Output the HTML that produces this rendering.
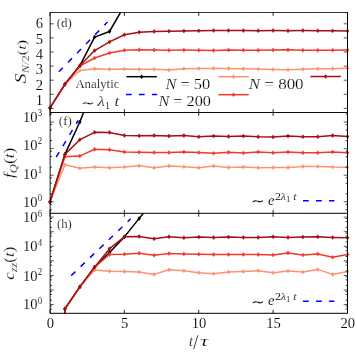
<!DOCTYPE html>
<html><head><meta charset="utf-8"><style>html,body{margin:0;padding:0;background:#fff;}svg{display:block;will-change:transform;}text{font-family:"Liberation Serif", serif;fill:#000;stroke:#fff;stroke-width:0.1px;}text.m{stroke-width:0.2px;}</style></head><body>
<svg width="357" height="354" viewBox="0 0 357 354">
<rect width="357" height="354" fill="#fff"/>
<defs>
<clipPath id="c0"><rect x="50.0" y="12.5" width="297.5" height="100.0"/></clipPath>
<clipPath id="c1"><rect x="50.0" y="112.5" width="297.5" height="100.8"/></clipPath>
<clipPath id="c2"><rect x="50.0" y="213.3" width="297.5" height="99.9"/></clipPath>
</defs>
<g>
<line x1="58.8" y1="71.8" x2="107.5" y2="22.0" stroke="#0000ff" stroke-width="1.50" stroke-dasharray="5.8 7.2" clip-path="url(#c0)"/>
<polyline fill="none" stroke="#000000" stroke-width="1.50" stroke-linejoin="round" clip-path="url(#c0)" points="50.0,107.8 64.9,84.3 79.8,65.8 94.6,37.1 109.5,31.5 124.4,5.7"/><path d="M50.0 105.8 l1.44 2.00 l-1.44 2.00 l-1.44 -2.00 z" fill="#000000" stroke="#000000" stroke-width="0.5"/><path d="M64.9 82.3 l1.44 2.00 l-1.44 2.00 l-1.44 -2.00 z" fill="#000000" stroke="#000000" stroke-width="0.5"/><path d="M79.8 63.8 l1.44 2.00 l-1.44 2.00 l-1.44 -2.00 z" fill="#000000" stroke="#000000" stroke-width="0.5"/><path d="M94.6 35.1 l1.44 2.00 l-1.44 2.00 l-1.44 -2.00 z" fill="#000000" stroke="#000000" stroke-width="0.5"/><path d="M109.5 29.5 l1.44 2.00 l-1.44 2.00 l-1.44 -2.00 z" fill="#000000" stroke="#000000" stroke-width="0.5"/>
<polyline fill="none" stroke="#fc9272" stroke-width="1.50" stroke-linejoin="round" clip-path="url(#c0)" points="50.0,107.8 64.9,84.3 79.8,70.5 94.6,68.7 109.5,69.2 124.4,69.0 139.2,69.2 154.1,69.3 169.0,69.9 183.9,68.7 198.8,68.5 213.6,68.4 228.5,68.6 243.4,68.8 258.2,69.0 273.1,69.5 288.0,69.8 302.9,69.2 317.8,68.7 332.6,68.7 347.5,68.3"/><path d="M50.0 105.8 l1.44 2.00 l-1.44 2.00 l-1.44 -2.00 z" fill="#fc9272" stroke="#fc9272" stroke-width="0.5"/><path d="M64.9 82.3 l1.44 2.00 l-1.44 2.00 l-1.44 -2.00 z" fill="#fc9272" stroke="#fc9272" stroke-width="0.5"/><path d="M79.8 68.5 l1.44 2.00 l-1.44 2.00 l-1.44 -2.00 z" fill="#fc9272" stroke="#fc9272" stroke-width="0.5"/><path d="M94.6 66.7 l1.44 2.00 l-1.44 2.00 l-1.44 -2.00 z" fill="#fc9272" stroke="#fc9272" stroke-width="0.5"/><path d="M109.5 67.2 l1.44 2.00 l-1.44 2.00 l-1.44 -2.00 z" fill="#fc9272" stroke="#fc9272" stroke-width="0.5"/><path d="M124.4 67.0 l1.44 2.00 l-1.44 2.00 l-1.44 -2.00 z" fill="#fc9272" stroke="#fc9272" stroke-width="0.5"/><path d="M139.2 67.2 l1.44 2.00 l-1.44 2.00 l-1.44 -2.00 z" fill="#fc9272" stroke="#fc9272" stroke-width="0.5"/><path d="M154.1 67.3 l1.44 2.00 l-1.44 2.00 l-1.44 -2.00 z" fill="#fc9272" stroke="#fc9272" stroke-width="0.5"/><path d="M169.0 67.9 l1.44 2.00 l-1.44 2.00 l-1.44 -2.00 z" fill="#fc9272" stroke="#fc9272" stroke-width="0.5"/><path d="M183.9 66.7 l1.44 2.00 l-1.44 2.00 l-1.44 -2.00 z" fill="#fc9272" stroke="#fc9272" stroke-width="0.5"/><path d="M198.8 66.5 l1.44 2.00 l-1.44 2.00 l-1.44 -2.00 z" fill="#fc9272" stroke="#fc9272" stroke-width="0.5"/><path d="M213.6 66.4 l1.44 2.00 l-1.44 2.00 l-1.44 -2.00 z" fill="#fc9272" stroke="#fc9272" stroke-width="0.5"/><path d="M228.5 66.6 l1.44 2.00 l-1.44 2.00 l-1.44 -2.00 z" fill="#fc9272" stroke="#fc9272" stroke-width="0.5"/><path d="M243.4 66.8 l1.44 2.00 l-1.44 2.00 l-1.44 -2.00 z" fill="#fc9272" stroke="#fc9272" stroke-width="0.5"/><path d="M258.2 67.0 l1.44 2.00 l-1.44 2.00 l-1.44 -2.00 z" fill="#fc9272" stroke="#fc9272" stroke-width="0.5"/><path d="M273.1 67.5 l1.44 2.00 l-1.44 2.00 l-1.44 -2.00 z" fill="#fc9272" stroke="#fc9272" stroke-width="0.5"/><path d="M288.0 67.8 l1.44 2.00 l-1.44 2.00 l-1.44 -2.00 z" fill="#fc9272" stroke="#fc9272" stroke-width="0.5"/><path d="M302.9 67.2 l1.44 2.00 l-1.44 2.00 l-1.44 -2.00 z" fill="#fc9272" stroke="#fc9272" stroke-width="0.5"/><path d="M317.8 66.7 l1.44 2.00 l-1.44 2.00 l-1.44 -2.00 z" fill="#fc9272" stroke="#fc9272" stroke-width="0.5"/><path d="M332.6 66.7 l1.44 2.00 l-1.44 2.00 l-1.44 -2.00 z" fill="#fc9272" stroke="#fc9272" stroke-width="0.5"/><path d="M347.5 66.3 l1.44 2.00 l-1.44 2.00 l-1.44 -2.00 z" fill="#fc9272" stroke="#fc9272" stroke-width="0.5"/>
<polyline fill="none" stroke="#ef3b2c" stroke-width="1.50" stroke-linejoin="round" clip-path="url(#c0)" points="50.0,107.8 64.9,84.3 79.8,66.0 94.6,58.0 109.5,53.0 124.4,50.3 139.2,49.7 154.1,50.0 169.0,50.3 183.9,50.1 198.8,50.2 213.6,50.4 228.5,50.0 243.4,50.2 258.2,50.3 273.1,50.0 288.0,49.8 302.9,50.2 317.8,50.3 332.6,50.2 347.5,50.1"/><path d="M50.0 105.8 l1.44 2.00 l-1.44 2.00 l-1.44 -2.00 z" fill="#ef3b2c" stroke="#ef3b2c" stroke-width="0.5"/><path d="M64.9 82.3 l1.44 2.00 l-1.44 2.00 l-1.44 -2.00 z" fill="#ef3b2c" stroke="#ef3b2c" stroke-width="0.5"/><path d="M79.8 64.0 l1.44 2.00 l-1.44 2.00 l-1.44 -2.00 z" fill="#ef3b2c" stroke="#ef3b2c" stroke-width="0.5"/><path d="M94.6 56.0 l1.44 2.00 l-1.44 2.00 l-1.44 -2.00 z" fill="#ef3b2c" stroke="#ef3b2c" stroke-width="0.5"/><path d="M109.5 51.0 l1.44 2.00 l-1.44 2.00 l-1.44 -2.00 z" fill="#ef3b2c" stroke="#ef3b2c" stroke-width="0.5"/><path d="M124.4 48.3 l1.44 2.00 l-1.44 2.00 l-1.44 -2.00 z" fill="#ef3b2c" stroke="#ef3b2c" stroke-width="0.5"/><path d="M139.2 47.7 l1.44 2.00 l-1.44 2.00 l-1.44 -2.00 z" fill="#ef3b2c" stroke="#ef3b2c" stroke-width="0.5"/><path d="M154.1 48.0 l1.44 2.00 l-1.44 2.00 l-1.44 -2.00 z" fill="#ef3b2c" stroke="#ef3b2c" stroke-width="0.5"/><path d="M169.0 48.3 l1.44 2.00 l-1.44 2.00 l-1.44 -2.00 z" fill="#ef3b2c" stroke="#ef3b2c" stroke-width="0.5"/><path d="M183.9 48.1 l1.44 2.00 l-1.44 2.00 l-1.44 -2.00 z" fill="#ef3b2c" stroke="#ef3b2c" stroke-width="0.5"/><path d="M198.8 48.2 l1.44 2.00 l-1.44 2.00 l-1.44 -2.00 z" fill="#ef3b2c" stroke="#ef3b2c" stroke-width="0.5"/><path d="M213.6 48.4 l1.44 2.00 l-1.44 2.00 l-1.44 -2.00 z" fill="#ef3b2c" stroke="#ef3b2c" stroke-width="0.5"/><path d="M228.5 48.0 l1.44 2.00 l-1.44 2.00 l-1.44 -2.00 z" fill="#ef3b2c" stroke="#ef3b2c" stroke-width="0.5"/><path d="M243.4 48.2 l1.44 2.00 l-1.44 2.00 l-1.44 -2.00 z" fill="#ef3b2c" stroke="#ef3b2c" stroke-width="0.5"/><path d="M258.2 48.3 l1.44 2.00 l-1.44 2.00 l-1.44 -2.00 z" fill="#ef3b2c" stroke="#ef3b2c" stroke-width="0.5"/><path d="M273.1 48.0 l1.44 2.00 l-1.44 2.00 l-1.44 -2.00 z" fill="#ef3b2c" stroke="#ef3b2c" stroke-width="0.5"/><path d="M288.0 47.8 l1.44 2.00 l-1.44 2.00 l-1.44 -2.00 z" fill="#ef3b2c" stroke="#ef3b2c" stroke-width="0.5"/><path d="M302.9 48.2 l1.44 2.00 l-1.44 2.00 l-1.44 -2.00 z" fill="#ef3b2c" stroke="#ef3b2c" stroke-width="0.5"/><path d="M317.8 48.3 l1.44 2.00 l-1.44 2.00 l-1.44 -2.00 z" fill="#ef3b2c" stroke="#ef3b2c" stroke-width="0.5"/><path d="M332.6 48.2 l1.44 2.00 l-1.44 2.00 l-1.44 -2.00 z" fill="#ef3b2c" stroke="#ef3b2c" stroke-width="0.5"/><path d="M347.5 48.1 l1.44 2.00 l-1.44 2.00 l-1.44 -2.00 z" fill="#ef3b2c" stroke="#ef3b2c" stroke-width="0.5"/>
<polyline fill="none" stroke="#a50f15" stroke-width="1.50" stroke-linejoin="round" clip-path="url(#c0)" points="50.0,107.8 64.9,84.3 79.8,65.8 94.6,50.6 109.5,41.9 124.4,34.7 139.2,32.2 154.1,31.5 169.0,31.2 183.9,31.0 198.8,30.8 213.6,30.6 228.5,30.5 243.4,30.6 258.2,30.7 273.1,30.6 288.0,30.8 302.9,30.6 317.8,30.7 332.6,30.8 347.5,30.9"/><path d="M50.0 105.8 l1.44 2.00 l-1.44 2.00 l-1.44 -2.00 z" fill="#a50f15" stroke="#a50f15" stroke-width="0.5"/><path d="M64.9 82.3 l1.44 2.00 l-1.44 2.00 l-1.44 -2.00 z" fill="#a50f15" stroke="#a50f15" stroke-width="0.5"/><path d="M79.8 63.8 l1.44 2.00 l-1.44 2.00 l-1.44 -2.00 z" fill="#a50f15" stroke="#a50f15" stroke-width="0.5"/><path d="M94.6 48.6 l1.44 2.00 l-1.44 2.00 l-1.44 -2.00 z" fill="#a50f15" stroke="#a50f15" stroke-width="0.5"/><path d="M109.5 39.9 l1.44 2.00 l-1.44 2.00 l-1.44 -2.00 z" fill="#a50f15" stroke="#a50f15" stroke-width="0.5"/><path d="M124.4 32.7 l1.44 2.00 l-1.44 2.00 l-1.44 -2.00 z" fill="#a50f15" stroke="#a50f15" stroke-width="0.5"/><path d="M139.2 30.2 l1.44 2.00 l-1.44 2.00 l-1.44 -2.00 z" fill="#a50f15" stroke="#a50f15" stroke-width="0.5"/><path d="M154.1 29.5 l1.44 2.00 l-1.44 2.00 l-1.44 -2.00 z" fill="#a50f15" stroke="#a50f15" stroke-width="0.5"/><path d="M169.0 29.2 l1.44 2.00 l-1.44 2.00 l-1.44 -2.00 z" fill="#a50f15" stroke="#a50f15" stroke-width="0.5"/><path d="M183.9 29.0 l1.44 2.00 l-1.44 2.00 l-1.44 -2.00 z" fill="#a50f15" stroke="#a50f15" stroke-width="0.5"/><path d="M198.8 28.8 l1.44 2.00 l-1.44 2.00 l-1.44 -2.00 z" fill="#a50f15" stroke="#a50f15" stroke-width="0.5"/><path d="M213.6 28.6 l1.44 2.00 l-1.44 2.00 l-1.44 -2.00 z" fill="#a50f15" stroke="#a50f15" stroke-width="0.5"/><path d="M228.5 28.5 l1.44 2.00 l-1.44 2.00 l-1.44 -2.00 z" fill="#a50f15" stroke="#a50f15" stroke-width="0.5"/><path d="M243.4 28.6 l1.44 2.00 l-1.44 2.00 l-1.44 -2.00 z" fill="#a50f15" stroke="#a50f15" stroke-width="0.5"/><path d="M258.2 28.7 l1.44 2.00 l-1.44 2.00 l-1.44 -2.00 z" fill="#a50f15" stroke="#a50f15" stroke-width="0.5"/><path d="M273.1 28.6 l1.44 2.00 l-1.44 2.00 l-1.44 -2.00 z" fill="#a50f15" stroke="#a50f15" stroke-width="0.5"/><path d="M288.0 28.8 l1.44 2.00 l-1.44 2.00 l-1.44 -2.00 z" fill="#a50f15" stroke="#a50f15" stroke-width="0.5"/><path d="M302.9 28.6 l1.44 2.00 l-1.44 2.00 l-1.44 -2.00 z" fill="#a50f15" stroke="#a50f15" stroke-width="0.5"/><path d="M317.8 28.7 l1.44 2.00 l-1.44 2.00 l-1.44 -2.00 z" fill="#a50f15" stroke="#a50f15" stroke-width="0.5"/><path d="M332.6 28.8 l1.44 2.00 l-1.44 2.00 l-1.44 -2.00 z" fill="#a50f15" stroke="#a50f15" stroke-width="0.5"/><path d="M347.5 28.9 l1.44 2.00 l-1.44 2.00 l-1.44 -2.00 z" fill="#a50f15" stroke="#a50f15" stroke-width="0.5"/>
</g>
<g>
<line x1="56.2" y1="157.2" x2="78.2" y2="120.5" stroke="#0000ff" stroke-width="1.50" stroke-dasharray="5.8 7.2" clip-path="url(#c1)"/>
<polyline fill="none" stroke="#000000" stroke-width="1.50" stroke-linejoin="round" clip-path="url(#c1)" points="50.0,201.8 64.9,154.4 79.8,122.0 94.6,85.0"/><path d="M50.0 199.8 l1.44 2.00 l-1.44 2.00 l-1.44 -2.00 z" fill="#000000" stroke="#000000" stroke-width="0.5"/><path d="M64.9 152.4 l1.44 2.00 l-1.44 2.00 l-1.44 -2.00 z" fill="#000000" stroke="#000000" stroke-width="0.5"/><path d="M79.8 120.0 l1.44 2.00 l-1.44 2.00 l-1.44 -2.00 z" fill="#000000" stroke="#000000" stroke-width="0.5"/>
<polyline fill="none" stroke="#fc9272" stroke-width="1.50" stroke-linejoin="round" clip-path="url(#c1)" points="50.0,201.8 64.9,164.8 79.8,168.2 94.6,167.1 109.5,167.7 124.4,167.1 139.2,165.7 154.1,167.7 169.0,166.0 183.9,166.7 198.8,167.7 213.6,166.0 228.5,167.4 243.4,167.1 258.2,167.7 273.1,167.6 288.0,167.6 302.9,166.4 317.8,166.4 332.6,167.1 347.5,167.3"/><path d="M50.0 199.8 l1.44 2.00 l-1.44 2.00 l-1.44 -2.00 z" fill="#fc9272" stroke="#fc9272" stroke-width="0.5"/><path d="M64.9 162.8 l1.44 2.00 l-1.44 2.00 l-1.44 -2.00 z" fill="#fc9272" stroke="#fc9272" stroke-width="0.5"/><path d="M79.8 166.2 l1.44 2.00 l-1.44 2.00 l-1.44 -2.00 z" fill="#fc9272" stroke="#fc9272" stroke-width="0.5"/><path d="M94.6 165.1 l1.44 2.00 l-1.44 2.00 l-1.44 -2.00 z" fill="#fc9272" stroke="#fc9272" stroke-width="0.5"/><path d="M109.5 165.7 l1.44 2.00 l-1.44 2.00 l-1.44 -2.00 z" fill="#fc9272" stroke="#fc9272" stroke-width="0.5"/><path d="M124.4 165.1 l1.44 2.00 l-1.44 2.00 l-1.44 -2.00 z" fill="#fc9272" stroke="#fc9272" stroke-width="0.5"/><path d="M139.2 163.7 l1.44 2.00 l-1.44 2.00 l-1.44 -2.00 z" fill="#fc9272" stroke="#fc9272" stroke-width="0.5"/><path d="M154.1 165.7 l1.44 2.00 l-1.44 2.00 l-1.44 -2.00 z" fill="#fc9272" stroke="#fc9272" stroke-width="0.5"/><path d="M169.0 164.0 l1.44 2.00 l-1.44 2.00 l-1.44 -2.00 z" fill="#fc9272" stroke="#fc9272" stroke-width="0.5"/><path d="M183.9 164.7 l1.44 2.00 l-1.44 2.00 l-1.44 -2.00 z" fill="#fc9272" stroke="#fc9272" stroke-width="0.5"/><path d="M198.8 165.7 l1.44 2.00 l-1.44 2.00 l-1.44 -2.00 z" fill="#fc9272" stroke="#fc9272" stroke-width="0.5"/><path d="M213.6 164.0 l1.44 2.00 l-1.44 2.00 l-1.44 -2.00 z" fill="#fc9272" stroke="#fc9272" stroke-width="0.5"/><path d="M228.5 165.4 l1.44 2.00 l-1.44 2.00 l-1.44 -2.00 z" fill="#fc9272" stroke="#fc9272" stroke-width="0.5"/><path d="M243.4 165.1 l1.44 2.00 l-1.44 2.00 l-1.44 -2.00 z" fill="#fc9272" stroke="#fc9272" stroke-width="0.5"/><path d="M258.2 165.7 l1.44 2.00 l-1.44 2.00 l-1.44 -2.00 z" fill="#fc9272" stroke="#fc9272" stroke-width="0.5"/><path d="M273.1 165.6 l1.44 2.00 l-1.44 2.00 l-1.44 -2.00 z" fill="#fc9272" stroke="#fc9272" stroke-width="0.5"/><path d="M288.0 165.6 l1.44 2.00 l-1.44 2.00 l-1.44 -2.00 z" fill="#fc9272" stroke="#fc9272" stroke-width="0.5"/><path d="M302.9 164.4 l1.44 2.00 l-1.44 2.00 l-1.44 -2.00 z" fill="#fc9272" stroke="#fc9272" stroke-width="0.5"/><path d="M317.8 164.4 l1.44 2.00 l-1.44 2.00 l-1.44 -2.00 z" fill="#fc9272" stroke="#fc9272" stroke-width="0.5"/><path d="M332.6 165.1 l1.44 2.00 l-1.44 2.00 l-1.44 -2.00 z" fill="#fc9272" stroke="#fc9272" stroke-width="0.5"/><path d="M347.5 165.3 l1.44 2.00 l-1.44 2.00 l-1.44 -2.00 z" fill="#fc9272" stroke="#fc9272" stroke-width="0.5"/>
<polyline fill="none" stroke="#ef3b2c" stroke-width="1.50" stroke-linejoin="round" clip-path="url(#c1)" points="50.0,201.8 64.9,156.7 79.8,156.1 94.6,149.3 109.5,149.7 124.4,151.9 139.2,152.3 154.1,152.6 169.0,152.6 183.9,151.9 198.8,152.6 213.6,153.3 228.5,152.3 243.4,152.9 258.2,151.9 273.1,152.8 288.0,151.9 302.9,152.8 317.8,152.8 332.6,151.9 347.5,152.8"/><path d="M50.0 199.8 l1.44 2.00 l-1.44 2.00 l-1.44 -2.00 z" fill="#ef3b2c" stroke="#ef3b2c" stroke-width="0.5"/><path d="M64.9 154.7 l1.44 2.00 l-1.44 2.00 l-1.44 -2.00 z" fill="#ef3b2c" stroke="#ef3b2c" stroke-width="0.5"/><path d="M79.8 154.1 l1.44 2.00 l-1.44 2.00 l-1.44 -2.00 z" fill="#ef3b2c" stroke="#ef3b2c" stroke-width="0.5"/><path d="M94.6 147.3 l1.44 2.00 l-1.44 2.00 l-1.44 -2.00 z" fill="#ef3b2c" stroke="#ef3b2c" stroke-width="0.5"/><path d="M109.5 147.7 l1.44 2.00 l-1.44 2.00 l-1.44 -2.00 z" fill="#ef3b2c" stroke="#ef3b2c" stroke-width="0.5"/><path d="M124.4 149.9 l1.44 2.00 l-1.44 2.00 l-1.44 -2.00 z" fill="#ef3b2c" stroke="#ef3b2c" stroke-width="0.5"/><path d="M139.2 150.3 l1.44 2.00 l-1.44 2.00 l-1.44 -2.00 z" fill="#ef3b2c" stroke="#ef3b2c" stroke-width="0.5"/><path d="M154.1 150.6 l1.44 2.00 l-1.44 2.00 l-1.44 -2.00 z" fill="#ef3b2c" stroke="#ef3b2c" stroke-width="0.5"/><path d="M169.0 150.6 l1.44 2.00 l-1.44 2.00 l-1.44 -2.00 z" fill="#ef3b2c" stroke="#ef3b2c" stroke-width="0.5"/><path d="M183.9 149.9 l1.44 2.00 l-1.44 2.00 l-1.44 -2.00 z" fill="#ef3b2c" stroke="#ef3b2c" stroke-width="0.5"/><path d="M198.8 150.6 l1.44 2.00 l-1.44 2.00 l-1.44 -2.00 z" fill="#ef3b2c" stroke="#ef3b2c" stroke-width="0.5"/><path d="M213.6 151.3 l1.44 2.00 l-1.44 2.00 l-1.44 -2.00 z" fill="#ef3b2c" stroke="#ef3b2c" stroke-width="0.5"/><path d="M228.5 150.3 l1.44 2.00 l-1.44 2.00 l-1.44 -2.00 z" fill="#ef3b2c" stroke="#ef3b2c" stroke-width="0.5"/><path d="M243.4 150.9 l1.44 2.00 l-1.44 2.00 l-1.44 -2.00 z" fill="#ef3b2c" stroke="#ef3b2c" stroke-width="0.5"/><path d="M258.2 149.9 l1.44 2.00 l-1.44 2.00 l-1.44 -2.00 z" fill="#ef3b2c" stroke="#ef3b2c" stroke-width="0.5"/><path d="M273.1 150.8 l1.44 2.00 l-1.44 2.00 l-1.44 -2.00 z" fill="#ef3b2c" stroke="#ef3b2c" stroke-width="0.5"/><path d="M288.0 149.9 l1.44 2.00 l-1.44 2.00 l-1.44 -2.00 z" fill="#ef3b2c" stroke="#ef3b2c" stroke-width="0.5"/><path d="M302.9 150.8 l1.44 2.00 l-1.44 2.00 l-1.44 -2.00 z" fill="#ef3b2c" stroke="#ef3b2c" stroke-width="0.5"/><path d="M317.8 150.8 l1.44 2.00 l-1.44 2.00 l-1.44 -2.00 z" fill="#ef3b2c" stroke="#ef3b2c" stroke-width="0.5"/><path d="M332.6 149.9 l1.44 2.00 l-1.44 2.00 l-1.44 -2.00 z" fill="#ef3b2c" stroke="#ef3b2c" stroke-width="0.5"/><path d="M347.5 150.8 l1.44 2.00 l-1.44 2.00 l-1.44 -2.00 z" fill="#ef3b2c" stroke="#ef3b2c" stroke-width="0.5"/>
<polyline fill="none" stroke="#a50f15" stroke-width="1.50" stroke-linejoin="round" clip-path="url(#c1)" points="50.0,201.8 64.9,154.4 79.8,139.7 94.6,132.3 109.5,132.4 124.4,135.5 139.2,135.8 154.1,135.5 169.0,136.1 183.9,135.5 198.8,136.8 213.6,136.1 228.5,136.5 243.4,136.1 258.2,136.8 273.1,137.1 288.0,136.1 302.9,136.7 317.8,136.7 332.6,135.5 347.5,136.5"/><path d="M50.0 199.8 l1.44 2.00 l-1.44 2.00 l-1.44 -2.00 z" fill="#a50f15" stroke="#a50f15" stroke-width="0.5"/><path d="M64.9 152.4 l1.44 2.00 l-1.44 2.00 l-1.44 -2.00 z" fill="#a50f15" stroke="#a50f15" stroke-width="0.5"/><path d="M79.8 137.7 l1.44 2.00 l-1.44 2.00 l-1.44 -2.00 z" fill="#a50f15" stroke="#a50f15" stroke-width="0.5"/><path d="M94.6 130.3 l1.44 2.00 l-1.44 2.00 l-1.44 -2.00 z" fill="#a50f15" stroke="#a50f15" stroke-width="0.5"/><path d="M109.5 130.4 l1.44 2.00 l-1.44 2.00 l-1.44 -2.00 z" fill="#a50f15" stroke="#a50f15" stroke-width="0.5"/><path d="M124.4 133.5 l1.44 2.00 l-1.44 2.00 l-1.44 -2.00 z" fill="#a50f15" stroke="#a50f15" stroke-width="0.5"/><path d="M139.2 133.8 l1.44 2.00 l-1.44 2.00 l-1.44 -2.00 z" fill="#a50f15" stroke="#a50f15" stroke-width="0.5"/><path d="M154.1 133.5 l1.44 2.00 l-1.44 2.00 l-1.44 -2.00 z" fill="#a50f15" stroke="#a50f15" stroke-width="0.5"/><path d="M169.0 134.1 l1.44 2.00 l-1.44 2.00 l-1.44 -2.00 z" fill="#a50f15" stroke="#a50f15" stroke-width="0.5"/><path d="M183.9 133.5 l1.44 2.00 l-1.44 2.00 l-1.44 -2.00 z" fill="#a50f15" stroke="#a50f15" stroke-width="0.5"/><path d="M198.8 134.8 l1.44 2.00 l-1.44 2.00 l-1.44 -2.00 z" fill="#a50f15" stroke="#a50f15" stroke-width="0.5"/><path d="M213.6 134.1 l1.44 2.00 l-1.44 2.00 l-1.44 -2.00 z" fill="#a50f15" stroke="#a50f15" stroke-width="0.5"/><path d="M228.5 134.5 l1.44 2.00 l-1.44 2.00 l-1.44 -2.00 z" fill="#a50f15" stroke="#a50f15" stroke-width="0.5"/><path d="M243.4 134.1 l1.44 2.00 l-1.44 2.00 l-1.44 -2.00 z" fill="#a50f15" stroke="#a50f15" stroke-width="0.5"/><path d="M258.2 134.8 l1.44 2.00 l-1.44 2.00 l-1.44 -2.00 z" fill="#a50f15" stroke="#a50f15" stroke-width="0.5"/><path d="M273.1 135.1 l1.44 2.00 l-1.44 2.00 l-1.44 -2.00 z" fill="#a50f15" stroke="#a50f15" stroke-width="0.5"/><path d="M288.0 134.1 l1.44 2.00 l-1.44 2.00 l-1.44 -2.00 z" fill="#a50f15" stroke="#a50f15" stroke-width="0.5"/><path d="M302.9 134.7 l1.44 2.00 l-1.44 2.00 l-1.44 -2.00 z" fill="#a50f15" stroke="#a50f15" stroke-width="0.5"/><path d="M317.8 134.7 l1.44 2.00 l-1.44 2.00 l-1.44 -2.00 z" fill="#a50f15" stroke="#a50f15" stroke-width="0.5"/><path d="M332.6 133.5 l1.44 2.00 l-1.44 2.00 l-1.44 -2.00 z" fill="#a50f15" stroke="#a50f15" stroke-width="0.5"/><path d="M347.5 134.5 l1.44 2.00 l-1.44 2.00 l-1.44 -2.00 z" fill="#a50f15" stroke="#a50f15" stroke-width="0.5"/>
</g>
<g>
<line x1="71.2" y1="275.6" x2="130.6" y2="218.9" stroke="#0000ff" stroke-width="1.50" stroke-dasharray="5.8 7.2" clip-path="url(#c2)"/>
<polyline fill="none" stroke="#000000" stroke-width="1.50" stroke-linejoin="round" clip-path="url(#c2)" points="50.0,740.0 64.9,308.9 79.8,286.9 94.6,267.1 109.5,252.5 124.4,236.9 139.2,218.4 154.1,200.0"/><path d="M64.9 306.9 l1.44 2.00 l-1.44 2.00 l-1.44 -2.00 z" fill="#000000" stroke="#000000" stroke-width="0.5"/><path d="M79.8 284.9 l1.44 2.00 l-1.44 2.00 l-1.44 -2.00 z" fill="#000000" stroke="#000000" stroke-width="0.5"/><path d="M94.6 265.1 l1.44 2.00 l-1.44 2.00 l-1.44 -2.00 z" fill="#000000" stroke="#000000" stroke-width="0.5"/><path d="M109.5 250.5 l1.44 2.00 l-1.44 2.00 l-1.44 -2.00 z" fill="#000000" stroke="#000000" stroke-width="0.5"/><path d="M124.4 234.9 l1.44 2.00 l-1.44 2.00 l-1.44 -2.00 z" fill="#000000" stroke="#000000" stroke-width="0.5"/><path d="M139.2 216.4 l1.44 2.00 l-1.44 2.00 l-1.44 -2.00 z" fill="#000000" stroke="#000000" stroke-width="0.5"/>
<polyline fill="none" stroke="#fc9272" stroke-width="1.50" stroke-linejoin="round" clip-path="url(#c2)" points="50.0,740.0 64.9,308.9 79.8,286.9 94.6,269.9 109.5,271.2 124.4,271.4 139.2,272.1 154.1,274.4 169.0,269.7 183.9,270.7 198.8,272.7 213.6,273.7 228.5,272.1 243.4,271.4 258.2,270.7 273.1,272.7 288.0,271.1 302.9,272.1 317.8,269.4 332.6,274.4 347.5,271.4"/><path d="M64.9 306.9 l1.44 2.00 l-1.44 2.00 l-1.44 -2.00 z" fill="#fc9272" stroke="#fc9272" stroke-width="0.5"/><path d="M79.8 284.9 l1.44 2.00 l-1.44 2.00 l-1.44 -2.00 z" fill="#fc9272" stroke="#fc9272" stroke-width="0.5"/><path d="M94.6 267.9 l1.44 2.00 l-1.44 2.00 l-1.44 -2.00 z" fill="#fc9272" stroke="#fc9272" stroke-width="0.5"/><path d="M109.5 269.2 l1.44 2.00 l-1.44 2.00 l-1.44 -2.00 z" fill="#fc9272" stroke="#fc9272" stroke-width="0.5"/><path d="M124.4 269.4 l1.44 2.00 l-1.44 2.00 l-1.44 -2.00 z" fill="#fc9272" stroke="#fc9272" stroke-width="0.5"/><path d="M139.2 270.1 l1.44 2.00 l-1.44 2.00 l-1.44 -2.00 z" fill="#fc9272" stroke="#fc9272" stroke-width="0.5"/><path d="M154.1 272.4 l1.44 2.00 l-1.44 2.00 l-1.44 -2.00 z" fill="#fc9272" stroke="#fc9272" stroke-width="0.5"/><path d="M169.0 267.7 l1.44 2.00 l-1.44 2.00 l-1.44 -2.00 z" fill="#fc9272" stroke="#fc9272" stroke-width="0.5"/><path d="M183.9 268.7 l1.44 2.00 l-1.44 2.00 l-1.44 -2.00 z" fill="#fc9272" stroke="#fc9272" stroke-width="0.5"/><path d="M198.8 270.7 l1.44 2.00 l-1.44 2.00 l-1.44 -2.00 z" fill="#fc9272" stroke="#fc9272" stroke-width="0.5"/><path d="M213.6 271.7 l1.44 2.00 l-1.44 2.00 l-1.44 -2.00 z" fill="#fc9272" stroke="#fc9272" stroke-width="0.5"/><path d="M228.5 270.1 l1.44 2.00 l-1.44 2.00 l-1.44 -2.00 z" fill="#fc9272" stroke="#fc9272" stroke-width="0.5"/><path d="M243.4 269.4 l1.44 2.00 l-1.44 2.00 l-1.44 -2.00 z" fill="#fc9272" stroke="#fc9272" stroke-width="0.5"/><path d="M258.2 268.7 l1.44 2.00 l-1.44 2.00 l-1.44 -2.00 z" fill="#fc9272" stroke="#fc9272" stroke-width="0.5"/><path d="M273.1 270.7 l1.44 2.00 l-1.44 2.00 l-1.44 -2.00 z" fill="#fc9272" stroke="#fc9272" stroke-width="0.5"/><path d="M288.0 269.1 l1.44 2.00 l-1.44 2.00 l-1.44 -2.00 z" fill="#fc9272" stroke="#fc9272" stroke-width="0.5"/><path d="M302.9 270.1 l1.44 2.00 l-1.44 2.00 l-1.44 -2.00 z" fill="#fc9272" stroke="#fc9272" stroke-width="0.5"/><path d="M317.8 267.4 l1.44 2.00 l-1.44 2.00 l-1.44 -2.00 z" fill="#fc9272" stroke="#fc9272" stroke-width="0.5"/><path d="M332.6 272.4 l1.44 2.00 l-1.44 2.00 l-1.44 -2.00 z" fill="#fc9272" stroke="#fc9272" stroke-width="0.5"/><path d="M347.5 269.4 l1.44 2.00 l-1.44 2.00 l-1.44 -2.00 z" fill="#fc9272" stroke="#fc9272" stroke-width="0.5"/>
<polyline fill="none" stroke="#ef3b2c" stroke-width="1.50" stroke-linejoin="round" clip-path="url(#c2)" points="50.0,740.0 64.9,308.9 79.8,286.9 94.6,267.3 109.5,254.5 124.4,254.2 139.2,253.2 154.1,255.3 169.0,253.6 183.9,253.9 198.8,254.2 213.6,254.6 228.5,254.6 243.4,254.6 258.2,254.6 273.1,254.9 288.0,252.9 302.9,254.9 317.8,253.9 332.6,257.3 347.5,254.6"/><path d="M64.9 306.9 l1.44 2.00 l-1.44 2.00 l-1.44 -2.00 z" fill="#ef3b2c" stroke="#ef3b2c" stroke-width="0.5"/><path d="M79.8 284.9 l1.44 2.00 l-1.44 2.00 l-1.44 -2.00 z" fill="#ef3b2c" stroke="#ef3b2c" stroke-width="0.5"/><path d="M94.6 265.3 l1.44 2.00 l-1.44 2.00 l-1.44 -2.00 z" fill="#ef3b2c" stroke="#ef3b2c" stroke-width="0.5"/><path d="M109.5 252.5 l1.44 2.00 l-1.44 2.00 l-1.44 -2.00 z" fill="#ef3b2c" stroke="#ef3b2c" stroke-width="0.5"/><path d="M124.4 252.2 l1.44 2.00 l-1.44 2.00 l-1.44 -2.00 z" fill="#ef3b2c" stroke="#ef3b2c" stroke-width="0.5"/><path d="M139.2 251.2 l1.44 2.00 l-1.44 2.00 l-1.44 -2.00 z" fill="#ef3b2c" stroke="#ef3b2c" stroke-width="0.5"/><path d="M154.1 253.3 l1.44 2.00 l-1.44 2.00 l-1.44 -2.00 z" fill="#ef3b2c" stroke="#ef3b2c" stroke-width="0.5"/><path d="M169.0 251.6 l1.44 2.00 l-1.44 2.00 l-1.44 -2.00 z" fill="#ef3b2c" stroke="#ef3b2c" stroke-width="0.5"/><path d="M183.9 251.9 l1.44 2.00 l-1.44 2.00 l-1.44 -2.00 z" fill="#ef3b2c" stroke="#ef3b2c" stroke-width="0.5"/><path d="M198.8 252.2 l1.44 2.00 l-1.44 2.00 l-1.44 -2.00 z" fill="#ef3b2c" stroke="#ef3b2c" stroke-width="0.5"/><path d="M213.6 252.6 l1.44 2.00 l-1.44 2.00 l-1.44 -2.00 z" fill="#ef3b2c" stroke="#ef3b2c" stroke-width="0.5"/><path d="M228.5 252.6 l1.44 2.00 l-1.44 2.00 l-1.44 -2.00 z" fill="#ef3b2c" stroke="#ef3b2c" stroke-width="0.5"/><path d="M243.4 252.6 l1.44 2.00 l-1.44 2.00 l-1.44 -2.00 z" fill="#ef3b2c" stroke="#ef3b2c" stroke-width="0.5"/><path d="M258.2 252.6 l1.44 2.00 l-1.44 2.00 l-1.44 -2.00 z" fill="#ef3b2c" stroke="#ef3b2c" stroke-width="0.5"/><path d="M273.1 252.9 l1.44 2.00 l-1.44 2.00 l-1.44 -2.00 z" fill="#ef3b2c" stroke="#ef3b2c" stroke-width="0.5"/><path d="M288.0 250.9 l1.44 2.00 l-1.44 2.00 l-1.44 -2.00 z" fill="#ef3b2c" stroke="#ef3b2c" stroke-width="0.5"/><path d="M302.9 252.9 l1.44 2.00 l-1.44 2.00 l-1.44 -2.00 z" fill="#ef3b2c" stroke="#ef3b2c" stroke-width="0.5"/><path d="M317.8 251.9 l1.44 2.00 l-1.44 2.00 l-1.44 -2.00 z" fill="#ef3b2c" stroke="#ef3b2c" stroke-width="0.5"/><path d="M332.6 255.3 l1.44 2.00 l-1.44 2.00 l-1.44 -2.00 z" fill="#ef3b2c" stroke="#ef3b2c" stroke-width="0.5"/><path d="M347.5 252.6 l1.44 2.00 l-1.44 2.00 l-1.44 -2.00 z" fill="#ef3b2c" stroke="#ef3b2c" stroke-width="0.5"/>
<polyline fill="none" stroke="#a50f15" stroke-width="1.50" stroke-linejoin="round" clip-path="url(#c2)" points="50.0,740.0 64.9,308.9 79.8,286.9 94.6,267.1 109.5,248.7 124.4,236.8 139.2,236.4 154.1,238.8 169.0,236.8 183.9,237.7 198.8,237.1 213.6,237.6 228.5,237.1 243.4,237.4 258.2,237.4 273.1,236.8 288.0,237.4 302.9,237.1 317.8,236.8 332.6,237.4 347.5,237.8"/><path d="M64.9 306.9 l1.44 2.00 l-1.44 2.00 l-1.44 -2.00 z" fill="#a50f15" stroke="#a50f15" stroke-width="0.5"/><path d="M79.8 284.9 l1.44 2.00 l-1.44 2.00 l-1.44 -2.00 z" fill="#a50f15" stroke="#a50f15" stroke-width="0.5"/><path d="M94.6 265.1 l1.44 2.00 l-1.44 2.00 l-1.44 -2.00 z" fill="#a50f15" stroke="#a50f15" stroke-width="0.5"/><path d="M109.5 246.7 l1.44 2.00 l-1.44 2.00 l-1.44 -2.00 z" fill="#a50f15" stroke="#a50f15" stroke-width="0.5"/><path d="M124.4 234.8 l1.44 2.00 l-1.44 2.00 l-1.44 -2.00 z" fill="#a50f15" stroke="#a50f15" stroke-width="0.5"/><path d="M139.2 234.4 l1.44 2.00 l-1.44 2.00 l-1.44 -2.00 z" fill="#a50f15" stroke="#a50f15" stroke-width="0.5"/><path d="M154.1 236.8 l1.44 2.00 l-1.44 2.00 l-1.44 -2.00 z" fill="#a50f15" stroke="#a50f15" stroke-width="0.5"/><path d="M169.0 234.8 l1.44 2.00 l-1.44 2.00 l-1.44 -2.00 z" fill="#a50f15" stroke="#a50f15" stroke-width="0.5"/><path d="M183.9 235.7 l1.44 2.00 l-1.44 2.00 l-1.44 -2.00 z" fill="#a50f15" stroke="#a50f15" stroke-width="0.5"/><path d="M198.8 235.1 l1.44 2.00 l-1.44 2.00 l-1.44 -2.00 z" fill="#a50f15" stroke="#a50f15" stroke-width="0.5"/><path d="M213.6 235.6 l1.44 2.00 l-1.44 2.00 l-1.44 -2.00 z" fill="#a50f15" stroke="#a50f15" stroke-width="0.5"/><path d="M228.5 235.1 l1.44 2.00 l-1.44 2.00 l-1.44 -2.00 z" fill="#a50f15" stroke="#a50f15" stroke-width="0.5"/><path d="M243.4 235.4 l1.44 2.00 l-1.44 2.00 l-1.44 -2.00 z" fill="#a50f15" stroke="#a50f15" stroke-width="0.5"/><path d="M258.2 235.4 l1.44 2.00 l-1.44 2.00 l-1.44 -2.00 z" fill="#a50f15" stroke="#a50f15" stroke-width="0.5"/><path d="M273.1 234.8 l1.44 2.00 l-1.44 2.00 l-1.44 -2.00 z" fill="#a50f15" stroke="#a50f15" stroke-width="0.5"/><path d="M288.0 235.4 l1.44 2.00 l-1.44 2.00 l-1.44 -2.00 z" fill="#a50f15" stroke="#a50f15" stroke-width="0.5"/><path d="M302.9 235.1 l1.44 2.00 l-1.44 2.00 l-1.44 -2.00 z" fill="#a50f15" stroke="#a50f15" stroke-width="0.5"/><path d="M317.8 234.8 l1.44 2.00 l-1.44 2.00 l-1.44 -2.00 z" fill="#a50f15" stroke="#a50f15" stroke-width="0.5"/><path d="M332.6 235.4 l1.44 2.00 l-1.44 2.00 l-1.44 -2.00 z" fill="#a50f15" stroke="#a50f15" stroke-width="0.5"/><path d="M347.5 235.8 l1.44 2.00 l-1.44 2.00 l-1.44 -2.00 z" fill="#a50f15" stroke="#a50f15" stroke-width="0.5"/>
</g>
<line x1="50.15" y1="12.10" x2="50.15" y2="313.60" stroke="#000" stroke-width="0.90"/>
<line x1="347.50" y1="12.10" x2="347.50" y2="313.60" stroke="#000" stroke-width="1.00"/>
<line x1="50.00" y1="12.50" x2="347.50" y2="12.50" stroke="#000" stroke-width="0.80"/>
<line x1="50.00" y1="112.50" x2="347.50" y2="112.50" stroke="#000" stroke-width="0.95"/>
<line x1="50.00" y1="213.30" x2="347.50" y2="213.30" stroke="#000" stroke-width="1.00"/>
<line x1="50.00" y1="313.30" x2="347.50" y2="313.30" stroke="#000" stroke-width="1.00"/>
<line x1="50.00" y1="12.50" x2="50.00" y2="15.90" stroke="#000" stroke-width="0.85"/>
<line x1="50.00" y1="112.50" x2="50.00" y2="109.10" stroke="#000" stroke-width="0.85"/>
<line x1="124.38" y1="12.50" x2="124.38" y2="15.90" stroke="#000" stroke-width="0.85"/>
<line x1="124.38" y1="112.50" x2="124.38" y2="109.10" stroke="#000" stroke-width="0.85"/>
<line x1="198.75" y1="12.50" x2="198.75" y2="15.90" stroke="#000" stroke-width="0.85"/>
<line x1="198.75" y1="112.50" x2="198.75" y2="109.10" stroke="#000" stroke-width="0.85"/>
<line x1="273.12" y1="12.50" x2="273.12" y2="15.90" stroke="#000" stroke-width="0.85"/>
<line x1="273.12" y1="112.50" x2="273.12" y2="109.10" stroke="#000" stroke-width="0.85"/>
<line x1="347.50" y1="12.50" x2="347.50" y2="15.90" stroke="#000" stroke-width="0.85"/>
<line x1="347.50" y1="112.50" x2="347.50" y2="109.10" stroke="#000" stroke-width="0.85"/>
<line x1="50.00" y1="112.50" x2="50.00" y2="115.90" stroke="#000" stroke-width="0.85"/>
<line x1="50.00" y1="213.30" x2="50.00" y2="209.90" stroke="#000" stroke-width="0.85"/>
<line x1="124.38" y1="112.50" x2="124.38" y2="115.90" stroke="#000" stroke-width="0.85"/>
<line x1="124.38" y1="213.30" x2="124.38" y2="209.90" stroke="#000" stroke-width="0.85"/>
<line x1="198.75" y1="112.50" x2="198.75" y2="115.90" stroke="#000" stroke-width="0.85"/>
<line x1="198.75" y1="213.30" x2="198.75" y2="209.90" stroke="#000" stroke-width="0.85"/>
<line x1="273.12" y1="112.50" x2="273.12" y2="115.90" stroke="#000" stroke-width="0.85"/>
<line x1="273.12" y1="213.30" x2="273.12" y2="209.90" stroke="#000" stroke-width="0.85"/>
<line x1="347.50" y1="112.50" x2="347.50" y2="115.90" stroke="#000" stroke-width="0.85"/>
<line x1="347.50" y1="213.30" x2="347.50" y2="209.90" stroke="#000" stroke-width="0.85"/>
<line x1="50.00" y1="213.30" x2="50.00" y2="216.70" stroke="#000" stroke-width="0.85"/>
<line x1="50.00" y1="313.20" x2="50.00" y2="309.80" stroke="#000" stroke-width="0.85"/>
<line x1="124.38" y1="213.30" x2="124.38" y2="216.70" stroke="#000" stroke-width="0.85"/>
<line x1="124.38" y1="313.20" x2="124.38" y2="309.80" stroke="#000" stroke-width="0.85"/>
<line x1="198.75" y1="213.30" x2="198.75" y2="216.70" stroke="#000" stroke-width="0.85"/>
<line x1="198.75" y1="313.20" x2="198.75" y2="309.80" stroke="#000" stroke-width="0.85"/>
<line x1="273.12" y1="213.30" x2="273.12" y2="216.70" stroke="#000" stroke-width="0.85"/>
<line x1="273.12" y1="313.20" x2="273.12" y2="309.80" stroke="#000" stroke-width="0.85"/>
<line x1="347.50" y1="213.30" x2="347.50" y2="216.70" stroke="#000" stroke-width="0.85"/>
<line x1="347.50" y1="313.20" x2="347.50" y2="309.80" stroke="#000" stroke-width="0.85"/>
<line x1="50.00" y1="108.40" x2="53.80" y2="108.40" stroke="#000" stroke-width="0.65"/>
<line x1="347.50" y1="108.40" x2="343.70" y2="108.40" stroke="#000" stroke-width="0.65"/>
<line x1="50.00" y1="94.30" x2="53.80" y2="94.30" stroke="#000" stroke-width="0.65"/>
<line x1="347.50" y1="94.30" x2="343.70" y2="94.30" stroke="#000" stroke-width="0.65"/>
<line x1="50.00" y1="80.20" x2="53.80" y2="80.20" stroke="#000" stroke-width="0.65"/>
<line x1="347.50" y1="80.20" x2="343.70" y2="80.20" stroke="#000" stroke-width="0.65"/>
<line x1="50.00" y1="66.10" x2="53.80" y2="66.10" stroke="#000" stroke-width="0.65"/>
<line x1="347.50" y1="66.10" x2="343.70" y2="66.10" stroke="#000" stroke-width="0.65"/>
<line x1="50.00" y1="52.00" x2="53.80" y2="52.00" stroke="#000" stroke-width="0.65"/>
<line x1="347.50" y1="52.00" x2="343.70" y2="52.00" stroke="#000" stroke-width="0.65"/>
<line x1="50.00" y1="37.90" x2="53.80" y2="37.90" stroke="#000" stroke-width="0.65"/>
<line x1="347.50" y1="37.90" x2="343.70" y2="37.90" stroke="#000" stroke-width="0.65"/>
<line x1="50.00" y1="23.80" x2="53.80" y2="23.80" stroke="#000" stroke-width="0.65"/>
<line x1="347.50" y1="23.80" x2="343.70" y2="23.80" stroke="#000" stroke-width="0.65"/>
<line x1="50.00" y1="209.81" x2="51.90" y2="209.81" stroke="#000" stroke-width="0.80"/>
<line x1="347.50" y1="209.81" x2="345.60" y2="209.81" stroke="#000" stroke-width="0.80"/>
<line x1="50.00" y1="204.38" x2="51.90" y2="204.38" stroke="#000" stroke-width="0.80"/>
<line x1="347.50" y1="204.38" x2="345.60" y2="204.38" stroke="#000" stroke-width="0.80"/>
<line x1="50.00" y1="201.80" x2="53.80" y2="201.80" stroke="#000" stroke-width="0.65"/>
<line x1="347.50" y1="201.80" x2="343.70" y2="201.80" stroke="#000" stroke-width="0.65"/>
<line x1="50.00" y1="193.79" x2="51.90" y2="193.79" stroke="#000" stroke-width="0.80"/>
<line x1="347.50" y1="193.79" x2="345.60" y2="193.79" stroke="#000" stroke-width="0.80"/>
<line x1="50.00" y1="183.21" x2="51.90" y2="183.21" stroke="#000" stroke-width="0.80"/>
<line x1="347.50" y1="183.21" x2="345.60" y2="183.21" stroke="#000" stroke-width="0.80"/>
<line x1="50.00" y1="177.78" x2="51.90" y2="177.78" stroke="#000" stroke-width="0.80"/>
<line x1="347.50" y1="177.78" x2="345.60" y2="177.78" stroke="#000" stroke-width="0.80"/>
<line x1="50.00" y1="175.20" x2="53.80" y2="175.20" stroke="#000" stroke-width="0.65"/>
<line x1="347.50" y1="175.20" x2="343.70" y2="175.20" stroke="#000" stroke-width="0.65"/>
<line x1="50.00" y1="167.19" x2="51.90" y2="167.19" stroke="#000" stroke-width="0.80"/>
<line x1="347.50" y1="167.19" x2="345.60" y2="167.19" stroke="#000" stroke-width="0.80"/>
<line x1="50.00" y1="156.61" x2="51.90" y2="156.61" stroke="#000" stroke-width="0.80"/>
<line x1="347.50" y1="156.61" x2="345.60" y2="156.61" stroke="#000" stroke-width="0.80"/>
<line x1="50.00" y1="151.18" x2="51.90" y2="151.18" stroke="#000" stroke-width="0.80"/>
<line x1="347.50" y1="151.18" x2="345.60" y2="151.18" stroke="#000" stroke-width="0.80"/>
<line x1="50.00" y1="148.60" x2="53.80" y2="148.60" stroke="#000" stroke-width="0.65"/>
<line x1="347.50" y1="148.60" x2="343.70" y2="148.60" stroke="#000" stroke-width="0.65"/>
<line x1="50.00" y1="140.59" x2="51.90" y2="140.59" stroke="#000" stroke-width="0.80"/>
<line x1="347.50" y1="140.59" x2="345.60" y2="140.59" stroke="#000" stroke-width="0.80"/>
<line x1="50.00" y1="130.01" x2="51.90" y2="130.01" stroke="#000" stroke-width="0.80"/>
<line x1="347.50" y1="130.01" x2="345.60" y2="130.01" stroke="#000" stroke-width="0.80"/>
<line x1="50.00" y1="124.58" x2="51.90" y2="124.58" stroke="#000" stroke-width="0.80"/>
<line x1="347.50" y1="124.58" x2="345.60" y2="124.58" stroke="#000" stroke-width="0.80"/>
<line x1="50.00" y1="122.00" x2="53.80" y2="122.00" stroke="#000" stroke-width="0.65"/>
<line x1="347.50" y1="122.00" x2="343.70" y2="122.00" stroke="#000" stroke-width="0.65"/>
<line x1="50.00" y1="113.99" x2="51.90" y2="113.99" stroke="#000" stroke-width="0.80"/>
<line x1="347.50" y1="113.99" x2="345.60" y2="113.99" stroke="#000" stroke-width="0.80"/>
<line x1="50.00" y1="308.99" x2="51.90" y2="308.99" stroke="#000" stroke-width="0.80"/>
<line x1="347.50" y1="308.99" x2="345.60" y2="308.99" stroke="#000" stroke-width="0.80"/>
<line x1="50.00" y1="306.01" x2="51.90" y2="306.01" stroke="#000" stroke-width="0.80"/>
<line x1="347.50" y1="306.01" x2="345.60" y2="306.01" stroke="#000" stroke-width="0.80"/>
<line x1="50.00" y1="304.60" x2="53.80" y2="304.60" stroke="#000" stroke-width="0.65"/>
<line x1="347.50" y1="304.60" x2="343.70" y2="304.60" stroke="#000" stroke-width="0.65"/>
<line x1="50.00" y1="300.21" x2="51.90" y2="300.21" stroke="#000" stroke-width="0.80"/>
<line x1="347.50" y1="300.21" x2="345.60" y2="300.21" stroke="#000" stroke-width="0.80"/>
<line x1="50.00" y1="294.41" x2="51.90" y2="294.41" stroke="#000" stroke-width="0.80"/>
<line x1="347.50" y1="294.41" x2="345.60" y2="294.41" stroke="#000" stroke-width="0.80"/>
<line x1="50.00" y1="291.43" x2="51.90" y2="291.43" stroke="#000" stroke-width="0.80"/>
<line x1="347.50" y1="291.43" x2="345.60" y2="291.43" stroke="#000" stroke-width="0.80"/>
<line x1="50.00" y1="290.02" x2="53.80" y2="290.02" stroke="#000" stroke-width="0.65"/>
<line x1="347.50" y1="290.02" x2="343.70" y2="290.02" stroke="#000" stroke-width="0.65"/>
<line x1="50.00" y1="285.63" x2="51.90" y2="285.63" stroke="#000" stroke-width="0.80"/>
<line x1="347.50" y1="285.63" x2="345.60" y2="285.63" stroke="#000" stroke-width="0.80"/>
<line x1="50.00" y1="279.83" x2="51.90" y2="279.83" stroke="#000" stroke-width="0.80"/>
<line x1="347.50" y1="279.83" x2="345.60" y2="279.83" stroke="#000" stroke-width="0.80"/>
<line x1="50.00" y1="276.85" x2="51.90" y2="276.85" stroke="#000" stroke-width="0.80"/>
<line x1="347.50" y1="276.85" x2="345.60" y2="276.85" stroke="#000" stroke-width="0.80"/>
<line x1="50.00" y1="275.44" x2="53.80" y2="275.44" stroke="#000" stroke-width="0.65"/>
<line x1="347.50" y1="275.44" x2="343.70" y2="275.44" stroke="#000" stroke-width="0.65"/>
<line x1="50.00" y1="271.05" x2="51.90" y2="271.05" stroke="#000" stroke-width="0.80"/>
<line x1="347.50" y1="271.05" x2="345.60" y2="271.05" stroke="#000" stroke-width="0.80"/>
<line x1="50.00" y1="265.25" x2="51.90" y2="265.25" stroke="#000" stroke-width="0.80"/>
<line x1="347.50" y1="265.25" x2="345.60" y2="265.25" stroke="#000" stroke-width="0.80"/>
<line x1="50.00" y1="262.27" x2="51.90" y2="262.27" stroke="#000" stroke-width="0.80"/>
<line x1="347.50" y1="262.27" x2="345.60" y2="262.27" stroke="#000" stroke-width="0.80"/>
<line x1="50.00" y1="260.86" x2="53.80" y2="260.86" stroke="#000" stroke-width="0.65"/>
<line x1="347.50" y1="260.86" x2="343.70" y2="260.86" stroke="#000" stroke-width="0.65"/>
<line x1="50.00" y1="256.47" x2="51.90" y2="256.47" stroke="#000" stroke-width="0.80"/>
<line x1="347.50" y1="256.47" x2="345.60" y2="256.47" stroke="#000" stroke-width="0.80"/>
<line x1="50.00" y1="250.67" x2="51.90" y2="250.67" stroke="#000" stroke-width="0.80"/>
<line x1="347.50" y1="250.67" x2="345.60" y2="250.67" stroke="#000" stroke-width="0.80"/>
<line x1="50.00" y1="247.69" x2="51.90" y2="247.69" stroke="#000" stroke-width="0.80"/>
<line x1="347.50" y1="247.69" x2="345.60" y2="247.69" stroke="#000" stroke-width="0.80"/>
<line x1="50.00" y1="246.28" x2="53.80" y2="246.28" stroke="#000" stroke-width="0.65"/>
<line x1="347.50" y1="246.28" x2="343.70" y2="246.28" stroke="#000" stroke-width="0.65"/>
<line x1="50.00" y1="241.89" x2="51.90" y2="241.89" stroke="#000" stroke-width="0.80"/>
<line x1="347.50" y1="241.89" x2="345.60" y2="241.89" stroke="#000" stroke-width="0.80"/>
<line x1="50.00" y1="236.09" x2="51.90" y2="236.09" stroke="#000" stroke-width="0.80"/>
<line x1="347.50" y1="236.09" x2="345.60" y2="236.09" stroke="#000" stroke-width="0.80"/>
<line x1="50.00" y1="233.11" x2="51.90" y2="233.11" stroke="#000" stroke-width="0.80"/>
<line x1="347.50" y1="233.11" x2="345.60" y2="233.11" stroke="#000" stroke-width="0.80"/>
<line x1="50.00" y1="231.70" x2="53.80" y2="231.70" stroke="#000" stroke-width="0.65"/>
<line x1="347.50" y1="231.70" x2="343.70" y2="231.70" stroke="#000" stroke-width="0.65"/>
<line x1="50.00" y1="227.31" x2="51.90" y2="227.31" stroke="#000" stroke-width="0.80"/>
<line x1="347.50" y1="227.31" x2="345.60" y2="227.31" stroke="#000" stroke-width="0.80"/>
<line x1="50.00" y1="221.51" x2="51.90" y2="221.51" stroke="#000" stroke-width="0.80"/>
<line x1="347.50" y1="221.51" x2="345.60" y2="221.51" stroke="#000" stroke-width="0.80"/>
<line x1="50.00" y1="218.53" x2="51.90" y2="218.53" stroke="#000" stroke-width="0.80"/>
<line x1="347.50" y1="218.53" x2="345.60" y2="218.53" stroke="#000" stroke-width="0.80"/>
<line x1="50.00" y1="217.12" x2="53.80" y2="217.12" stroke="#000" stroke-width="0.65"/>
<line x1="347.50" y1="217.12" x2="343.70" y2="217.12" stroke="#000" stroke-width="0.65"/>
<text x="39.30" y="104.90" font-size="14.60" text-anchor="middle" fill="#111" >1</text>
<text x="39.30" y="89.70" font-size="14.60" text-anchor="middle" fill="#111" >2</text>
<text x="39.30" y="74.20" font-size="14.60" text-anchor="middle" fill="#111" >3</text>
<text x="39.30" y="59.30" font-size="14.60" text-anchor="middle" fill="#111" >4</text>
<text x="39.30" y="43.70" font-size="14.60" text-anchor="middle" fill="#111" >5</text>
<text x="39.30" y="27.60" font-size="14.60" text-anchor="middle" fill="#111" >6</text>
<text x="23.00" y="206.90" font-size="14.60" textLength="14.50" lengthAdjust="spacingAndGlyphs" fill="#111" >10</text><text x="37.80" y="201.20" font-size="9.50" textLength="4.40" lengthAdjust="spacingAndGlyphs" fill="#111" >0</text>
<text x="23.00" y="178.70" font-size="14.60" textLength="14.50" lengthAdjust="spacingAndGlyphs" fill="#111" >10</text><text x="37.80" y="173.00" font-size="9.50" textLength="4.40" lengthAdjust="spacingAndGlyphs" fill="#111" >1</text>
<text x="23.00" y="149.80" font-size="14.60" textLength="14.50" lengthAdjust="spacingAndGlyphs" fill="#111" >10</text><text x="37.80" y="144.10" font-size="9.50" textLength="4.40" lengthAdjust="spacingAndGlyphs" fill="#111" >2</text>
<text x="23.00" y="122.10" font-size="14.60" textLength="14.50" lengthAdjust="spacingAndGlyphs" fill="#111" >10</text><text x="37.80" y="116.40" font-size="9.50" textLength="4.40" lengthAdjust="spacingAndGlyphs" fill="#111" >3</text>
<text x="23.00" y="309.20" font-size="14.60" textLength="14.50" lengthAdjust="spacingAndGlyphs" fill="#111" >10</text><text x="37.80" y="303.50" font-size="9.50" textLength="4.40" lengthAdjust="spacingAndGlyphs" fill="#111" >0</text>
<text x="23.00" y="280.50" font-size="14.60" textLength="14.50" lengthAdjust="spacingAndGlyphs" fill="#111" >10</text><text x="37.80" y="274.80" font-size="9.50" textLength="4.40" lengthAdjust="spacingAndGlyphs" fill="#111" >2</text>
<text x="23.00" y="251.30" font-size="14.60" textLength="14.50" lengthAdjust="spacingAndGlyphs" fill="#111" >10</text><text x="37.80" y="245.60" font-size="9.50" textLength="4.40" lengthAdjust="spacingAndGlyphs" fill="#111" >4</text>
<text x="23.00" y="222.40" font-size="14.60" textLength="14.50" lengthAdjust="spacingAndGlyphs" fill="#111" >10</text><text x="37.80" y="216.70" font-size="9.50" textLength="4.40" lengthAdjust="spacingAndGlyphs" fill="#111" >6</text>
<text x="50.30" y="328.30" font-size="14.60" text-anchor="middle" fill="#111" >0</text>
<text x="124.67" y="328.30" font-size="14.60" text-anchor="middle" fill="#111" >5</text>
<text x="199.05" y="328.30" font-size="14.60" text-anchor="middle" fill="#111" >10</text>
<text x="273.43" y="328.30" font-size="14.60" text-anchor="middle" fill="#111" >15</text>
<text x="347.80" y="328.30" font-size="14.60" text-anchor="middle" fill="#111" >20</text>
<text x="189.00" y="346.10" font-size="15.50" textLength="4.00" lengthAdjust="spacingAndGlyphs" fill="#111" class="m"><tspan font-style="italic">t</tspan></text>
<line x1="193.7" y1="349.0" x2="197.8" y2="335.3" stroke="#111" stroke-width="0.8"/>
<text x="200.00" y="346.10" font-size="14.50" textLength="8.40" lengthAdjust="spacingAndGlyphs" fill="#111" class="m"><tspan font-style="italic">τ</tspan></text>
<text transform="translate(25.8,83.4) rotate(-90)" font-size="14.5" textLength="43.4" lengthAdjust="spacingAndGlyphs" class="m" fill="#111"><tspan font-style="italic" font-size="17">S</tspan><tspan font-size="10.5" dy="3" font-style="italic">N</tspan><tspan font-size="10.5">/2</tspan><tspan dy="-3" font-size="13.5">(</tspan><tspan font-style="italic" font-size="13.5">t</tspan><tspan font-size="13.5">)</tspan></text>
<text transform="translate(14.0,178.0) rotate(-90)" font-size="14.5" textLength="30.3" lengthAdjust="spacingAndGlyphs" class="m" fill="#111"><tspan font-style="italic">f</tspan><tspan font-size="10.5" dy="3" font-style="italic">Q</tspan><tspan dy="-3">(</tspan><tspan font-style="italic">t</tspan>)</text>
<text transform="translate(13.5,279.8) rotate(-90)" font-size="14.5" textLength="33.2" lengthAdjust="spacingAndGlyphs" class="m" fill="#111"><tspan font-style="italic">c</tspan><tspan font-size="10.5" dy="3" font-style="italic">zz</tspan><tspan dy="-3">(</tspan><tspan font-style="italic">t</tspan>)</text>
<text x="56.70" y="26.60" font-size="12.50" textLength="15.10" lengthAdjust="spacingAndGlyphs" fill="#111" class="m">(d)</text>
<text x="58.80" y="124.80" font-size="12.50" textLength="13.00" lengthAdjust="spacingAndGlyphs" fill="#111" class="m">(f)</text>
<text x="56.90" y="228.40" font-size="12.50" textLength="14.90" lengthAdjust="spacingAndGlyphs" fill="#111" class="m">(h)</text>
<text x="75.40" y="88.00" font-size="12.50" textLength="44.00" lengthAdjust="spacingAndGlyphs" fill="#111" class="m">Analytic</text>
<text x="80.60" y="108.30" font-size="14.50" textLength="14.40" lengthAdjust="spacingAndGlyphs" fill="#111" class="m">∼</text>
<text x="97.60" y="106.20" font-size="14.50" textLength="7.30" lengthAdjust="spacingAndGlyphs" fill="#111" class="m"><tspan font-style="italic">λ</tspan></text>
<text x="105.30" y="108.90" font-size="10.20" textLength="4.60" lengthAdjust="spacingAndGlyphs" fill="#111" >1</text>
<text x="114.60" y="106.20" font-size="14.50" textLength="4.80" lengthAdjust="spacingAndGlyphs" fill="#111" class="m"><tspan font-style="italic">t</tspan></text>
<text x="165.40" y="88.60" font-size="14.50" textLength="44.80" lengthAdjust="spacingAndGlyphs" fill="#111" class="m"><tspan font-style="italic">N</tspan> = 50</text>
<text x="158.40" y="106.20" font-size="14.50" textLength="52.60" lengthAdjust="spacingAndGlyphs" fill="#111" class="m"><tspan font-style="italic">N</tspan> = 200</text>
<text x="248.80" y="88.80" font-size="14.50" textLength="54.80" lengthAdjust="spacingAndGlyphs" fill="#111" class="m"><tspan font-style="italic">N</tspan> = 800</text>
<line x1="126.4" y1="76.7" x2="156.8" y2="76.7" stroke="#000000" stroke-width="1.50" /><path d="M141.6 74.7 l1.44 2.00 l-1.44 2.00 l-1.44 -2.00 z" fill="#000000" stroke="#000000" stroke-width="0.5"/>
<line x1="125.9" y1="94.6" x2="157.2" y2="94.6" stroke="#0000ff" stroke-width="1.50" stroke-dasharray="5.8 7.2"/>
<line x1="218.4" y1="76.7" x2="248.8" y2="76.7" stroke="#fc9272" stroke-width="1.50" /><path d="M233.6 74.7 l1.44 2.00 l-1.44 2.00 l-1.44 -2.00 z" fill="#fc9272" stroke="#fc9272" stroke-width="0.5"/>
<line x1="218.4" y1="94.7" x2="248.8" y2="94.7" stroke="#ef3b2c" stroke-width="1.50" /><path d="M233.6 92.7 l1.44 2.00 l-1.44 2.00 l-1.44 -2.00 z" fill="#ef3b2c" stroke="#ef3b2c" stroke-width="0.5"/>
<line x1="310.4" y1="76.5" x2="340.8" y2="76.5" stroke="#a50f15" stroke-width="1.50" /><path d="M325.6 74.5 l1.44 2.00 l-1.44 2.00 l-1.44 -2.00 z" fill="#a50f15" stroke="#a50f15" stroke-width="0.5"/>
<text x="250.60" y="206.40" font-size="14.50" textLength="14.20" lengthAdjust="spacingAndGlyphs" fill="#111" >∼</text><text x="268.00" y="204.80" font-size="14.50" textLength="6.50" lengthAdjust="spacingAndGlyphs" fill="#111" ><tspan font-style="italic">e</tspan></text><text x="274.90" y="199.80" font-size="10.50" textLength="21.80" lengthAdjust="spacingAndGlyphs" fill="#111" >2<tspan font-style="italic">λ</tspan><tspan font-size="7.5" dy="1.8">1</tspan><tspan dy="-1.8"> </tspan><tspan font-style="italic">t</tspan></text><line x1="303.0" y1="200.7" x2="334.4" y2="200.7" stroke="#0000ff" stroke-width="1.50" stroke-dasharray="5.8 7.2"/>
<text x="250.60" y="306.90" font-size="14.50" textLength="14.20" lengthAdjust="spacingAndGlyphs" fill="#111" >∼</text><text x="268.00" y="305.30" font-size="14.50" textLength="6.50" lengthAdjust="spacingAndGlyphs" fill="#111" ><tspan font-style="italic">e</tspan></text><text x="274.90" y="300.30" font-size="10.50" textLength="21.80" lengthAdjust="spacingAndGlyphs" fill="#111" >2<tspan font-style="italic">λ</tspan><tspan font-size="7.5" dy="1.8">1</tspan><tspan dy="-1.8"> </tspan><tspan font-style="italic">t</tspan></text><line x1="303.0" y1="301.2" x2="334.4" y2="301.2" stroke="#0000ff" stroke-width="1.50" stroke-dasharray="5.8 7.2"/>
</svg></body></html>
